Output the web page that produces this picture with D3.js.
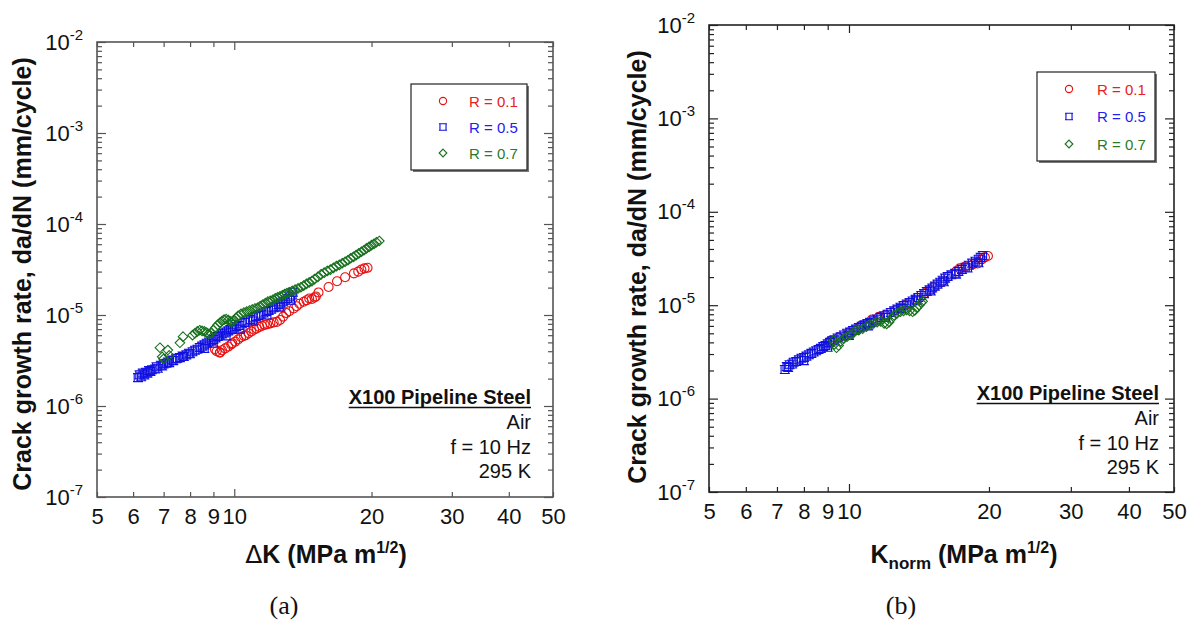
<!DOCTYPE html>
<html><head><meta charset="utf-8">
<script src="https://cdn.jsdelivr.net/npm/d3@7"></script>
<style>
body{margin:0;background:#fff}
svg{display:block;font-family:"Liberation Sans",Arial,sans-serif}
</style>
</head><body>
<svg id="c" width="1187" height="621"></svg>
<script>
// ---------- data ----------
const xTickValues = [5,6,7,8,9,10,20,30,40,50];
const yDecades = [-7,-6,-5,-4,-3,-2];
const seriesNames = ["R = 0.1","R = 0.5","R = 0.7"];
const noteTitle = "X100 Pipeline Steel";
const noteLines = ["Air","f = 10 Hz","295 K"];
const panelLetters = ["(a)","(b)"];

// panel (a): ΔK vs da/dN
const aR01 = [[9.07,4.2e-6],[9.15,4.0e-6],[9.3,3.9e-6],[9.3,3.85e-6],[9.4,4.1e-6],[9.55,4.3e-6],[9.7,4.5e-6],[9.85,4.75e-6],[9.9,4.9e-6],[10.05,5.1e-6],[10.2,5.4e-6],[10.35,5.7e-6],[10.5,5.9e-6],[10.6,6.0e-6],[10.75,6.3e-6],[10.9,6.6e-6],[11.05,6.9e-6],[11.2,7.1e-6],[11.35,7.4e-6],[11.5,7.6e-6],[11.65,7.8e-6],[11.8,7.9e-6],[12.0,8.1e-6],[12.2,8.3e-6],[12.4,8.4e-6],[12.6,8.8e-6],[12.8,9.6e-6],[13.0,1.05e-5],[13.2,1.1e-5],[13.5,1.18e-5],[13.7,1.25e-5],[13.9,1.33e-5],[14.2,1.4e-5],[14.4,1.45e-5],[14.6,1.52e-5],[14.8,1.5e-5],[15.0,1.56e-5],[15.1,1.6e-5],[15.3,1.77e-5],[16.1,2.03e-5],[16.8,2.35e-5],[17.5,2.6e-5],[18.3,2.87e-5],[18.7,3.0e-5],[19.0,3.16e-5],[19.3,3.25e-5],[19.6,3.3e-5]];
const aR05 = [[6.15,2.05e-6],[6.2,2.2e-6],[6.25,2.1e-6],[6.3,2.3e-6],[6.35,2.2e-6],[6.4,2.35e-6],[6.45,2.3e-6],[6.5,2.45e-6],[6.55,2.4e-6],[6.6,2.5e-6],[6.7,2.55e-6],[6.75,2.7e-6],[6.8,2.6e-6],[6.9,2.8e-6],[6.95,2.75e-6],[7.0,2.9e-6],[7.1,2.95e-6],[7.15,3.05e-6],[7.2,3.0e-6],[7.3,3.2e-6],[7.35,3.15e-6],[7.45,3.3e-6],[7.5,3.35e-6],[7.6,3.4e-6],[7.7,3.55e-6],[7.75,3.5e-6],[7.85,3.65e-6],[7.95,3.8e-6],[8.0,3.75e-6],[8.1,3.95e-6],[8.2,4.1e-6],[8.3,4.2e-6],[8.4,4.4e-6],[8.5,4.55e-6],[8.6,4.7e-6],[8.6,4.3e-6],[8.7,4.9e-6],[8.8,5.05e-6],[8.9,5.2e-6],[9.0,5.4e-6],[9.0,4.9e-6],[9.1,5.6e-6],[9.2,5.8e-6],[9.3,6.0e-6],[9.4,6.2e-6],[9.5,6.35e-6],[9.6,6.5e-6],[9.6,5.9e-6],[9.7,6.7e-6],[9.8,6.9e-6],[9.9,7.0e-6],[9.9,7.8e-6],[10.0,7.2e-6],[10.1,7.45e-6],[10.25,7.7e-6],[10.3,7.0e-6],[10.4,8.0e-6],[10.55,8.3e-6],[10.7,8.6e-6],[10.85,8.9e-6],[11.0,9.3e-6],[11.0,8.6e-6],[11.15,9.6e-6],[11.3,9.9e-6],[11.45,1.02e-5],[11.6,1.05e-5],[11.75,1.09e-5],[11.8,1.0e-5],[11.9,1.12e-5],[12.05,1.16e-5],[12.2,1.2e-5],[12.35,1.25e-5],[12.5,1.3e-5],[12.6,1.22e-5],[12.65,1.35e-5],[12.8,1.4e-5],[12.95,1.46e-5],[13.1,1.52e-5],[13.25,1.58e-5],[13.3,1.45e-5],[13.4,1.66e-5],[13.45,1.78e-5]];
const aR07 = [[6.87,4.37e-6],[6.95,3.47e-6],[7.0,3.3e-6],[7.15,4.12e-6],[7.2,3.6e-6],[7.6,4.95e-6],[7.72,5.78e-6],[8.1,6.0e-6],[8.2,6.3e-6],[8.3,6.6e-6],[8.4,6.8e-6],[8.5,6.7e-6],[8.6,6.6e-6],[8.7,6.4e-6],[8.8,6.2e-6],[8.9,6.3e-6],[9.0,6.8e-6],[9.1,7.3e-6],[9.2,7.8e-6],[9.3,8.2e-6],[9.4,8.6e-6],[9.5,8.9e-6],[9.6,9.0e-6],[9.7,8.8e-6],[9.8,8.5e-6],[9.9,8.5e-6],[10.0,8.8e-6],[10.1,9.3e-6],[10.2,9.8e-6],[10.35,1.03e-5],[10.5,1.06e-5],[10.65,1.09e-5],[10.8,1.12e-5],[10.95,1.15e-5],[11.1,1.18e-5],[11.25,1.2e-5],[11.4,1.25e-5],[11.55,1.3e-5],[11.7,1.35e-5],[11.85,1.4e-5],[12.0,1.43e-5],[12.15,1.47e-5],[12.3,1.52e-5],[12.45,1.56e-5],[12.6,1.6e-5],[12.75,1.65e-5],[12.9,1.7e-5],[13.05,1.74e-5],[13.2,1.78e-5],[13.4,1.84e-5],[13.6,1.9e-5],[13.8,1.96e-5],[14.0,2.02e-5],[14.2,2.1e-5],[14.4,2.2e-5],[14.6,2.28e-5],[14.8,2.36e-5],[15.0,2.48e-5],[15.25,2.62e-5],[15.5,2.8e-5],[15.75,2.92e-5],[16.0,3.05e-5],[16.25,3.15e-5],[16.5,3.3e-5],[16.75,3.45e-5],[17.0,3.55e-5],[17.25,3.7e-5],[17.5,3.85e-5],[17.75,4.0e-5],[18.0,4.2e-5],[18.25,4.35e-5],[18.5,4.55e-5],[18.75,4.75e-5],[19.0,4.95e-5],[19.25,5.15e-5],[19.5,5.4e-5],[19.75,5.6e-5],[20.0,5.85e-5],[20.25,6.05e-5],[20.5,6.3e-5],[20.8,6.5e-5]];

// panel (b): Knorm vs da/dN
const bR01 = [[9.1,4.1e-6],[9.5,4.5e-6],[10.0,5.1e-6],[10.6,6.0e-6],[11.2,7.0e-6],[11.6,7.5e-6],[12.0,7.9e-6],[12.6,8.9e-6],[13.3,1.02e-5],[14.0,1.2e-5],[14.6,1.35e-5],[15.2,1.55e-5],[15.8,1.75e-5],[16.4,2.05e-5],[17.0,2.3e-5],[17.3,2.48e-5],[17.8,2.6e-5],[18.5,2.75e-5],[18.9,2.8e-5],[19.3,3.1e-5],[19.6,3.25e-5],[19.9,3.36e-5]];
const bR05 = [[7.28,2.05e-6],[7.35,2.2e-6],[7.4,2.15e-6],[7.45,2.3e-6],[7.55,2.35e-6],[7.6,2.45e-6],[7.7,2.5e-6],[7.8,2.6e-6],[7.9,2.7e-6],[8.0,2.75e-6],[8.0,2.55e-6],[8.1,2.85e-6],[8.2,2.95e-6],[8.3,3.05e-6],[8.4,3.15e-6],[8.5,3.25e-6],[8.6,3.35e-6],[8.7,3.45e-6],[8.8,3.6e-6],[8.9,3.7e-6],[9.0,3.85e-6],[9.0,3.55e-6],[9.1,4.0e-6],[9.2,4.15e-6],[9.3,4.25e-6],[9.45,4.45e-6],[9.6,4.6e-6],[9.75,4.8e-6],[9.9,5.0e-6],[10.0,4.75e-6],[10.05,5.15e-6],[10.2,5.35e-6],[10.35,5.55e-6],[10.5,5.75e-6],[10.65,5.95e-6],[10.8,6.15e-6],[10.95,6.35e-6],[11.0,6.0e-6],[11.1,6.55e-6],[11.3,6.8e-6],[11.5,7.1e-6],[11.7,7.4e-6],[11.9,7.7e-6],[12.0,7.4e-6],[12.1,8.0e-6],[12.3,8.35e-6],[12.5,8.7e-6],[12.7,9.1e-6],[12.9,9.5e-6],[13.0,9.2e-6],[13.1,9.9e-6],[13.3,1.03e-5],[13.5,1.07e-5],[13.7,1.11e-5],[13.9,1.16e-5],[14.0,1.13e-5],[14.1,1.21e-5],[14.3,1.27e-5],[14.5,1.33e-5],[14.7,1.4e-5],[14.9,1.46e-5],[15.0,1.42e-5],[15.1,1.53e-5],[15.3,1.6e-5],[15.5,1.68e-5],[15.7,1.76e-5],[15.9,1.85e-5],[16.0,1.78e-5],[16.1,1.95e-5],[16.3,2.03e-5],[16.6,2.12e-5],[16.9,2.2e-5],[17.0,2.15e-5],[17.2,2.3e-5],[17.5,2.42e-5],[17.8,2.55e-5],[18.0,2.5e-5],[18.1,2.68e-5],[18.4,2.82e-5],[18.7,2.95e-5],[19.0,3.1e-5],[19.0,2.85e-5],[19.2,3.25e-5],[19.4,3.4e-5]];
const bR07 = [[9.26,4.2e-6],[9.3,3.8e-6],[9.4,3.5e-6],[9.5,3.7e-6],[9.6,4.1e-6],[9.75,4.4e-6],[9.9,4.6e-6],[10.05,4.8e-6],[10.2,5.0e-6],[10.35,5.4e-6],[10.5,5.4e-6],[10.7,5.6e-6],[10.9,5.9e-6],[11.1,6.2e-6],[11.3,6.4e-6],[11.5,6.6e-6],[11.7,6.7e-6],[11.9,6.4e-6],[12.05,6.3e-6],[12.2,6.6e-6],[12.35,7.2e-6],[12.5,7.8e-6],[12.7,8.2e-6],[12.9,8.5e-6],[13.1,8.7e-6],[13.3,8.9e-6],[13.5,8.7e-6],[13.7,8.5e-6],[13.85,8.8e-6],[14.0,9.4e-6],[14.15,1.0e-5],[14.3,1.06e-5],[14.4,1.1e-5]];

// ---------- drawing ----------
const svg = d3.select("#c");
const colors = ["#e81010","#1010e0","#16701c"];
const textColors = ["#e82020","#2020f0","#2a7a2a"];
const SANS = '"Liberation Sans",Arial,sans-serif';
const SERIF = '"Liberation Serif","Times New Roman",serif';

function markerPath(type){
  if(type===0){ const p=d3.path(); p.arc(0,0,4.5,0,2*Math.PI); return p.toString(); }
  if(type===1){ return "M-5,-4H5M-5,4H5M-3.8,-4V4M3.8,-4V4"; }
  return "M0,-4.8L4.8,0L0,4.8L-4.8,0Z";
}

function panel(cfg){
  const x = d3.scaleLog().domain([5,50]).range([cfg.x0,cfg.x1]);
  const y = d3.scaleLog().domain([1e-7,1e-2]).range([cfg.y1,cfg.y0]);
  const g = svg.append("g");
  const majors = yDecades.map(d=>Math.pow(10,d));
  const minors = [];
  yDecades.slice(0,-1).forEach(d=>{ for(let m=2;m<=9;m++) minors.push(m*Math.pow(10,d)); });

  const xb = g.append("g").attr("transform",`translate(0,${cfg.y1})`)
    .call(d3.axisBottom(x).tickValues(xTickValues).tickSize(-5).tickPadding(11).tickFormat(d3.format("d")));
  xb.selectAll(".tick line").attr("y2",d=>d===10?-8:-5);
  const xt = g.append("g").attr("transform",`translate(0,${cfg.y0})`)
    .call(d3.axisTop(x).tickValues(xTickValues).tickSize(-5).tickFormat(""));
  xt.selectAll(".tick line").attr("y2",d=>d===10?8:5);
  const yl = g.append("g").attr("transform",`translate(${cfg.x0},0)`)
    .call(d3.axisLeft(y).tickValues(majors).tickSize(-9).tickPadding(cfg.ypad));
  g.append("g").attr("transform",`translate(${cfg.x0},0)`)
    .call(d3.axisLeft(y).tickValues(minors).tickSize(-5).tickFormat(""));
  g.append("g").attr("transform",`translate(${cfg.x1},0)`)
    .call(d3.axisRight(y).tickValues(majors).tickSize(-9).tickFormat(""));
  g.append("g").attr("transform",`translate(${cfg.x1},0)`)
    .call(d3.axisRight(y).tickValues(minors).tickSize(-5).tickFormat(""));
  g.selectAll(".domain").remove();
  g.selectAll(".tick line").attr("stroke",cfg.frame).attr("stroke-width",1.2);
  g.selectAll("g").attr("font-family",null).attr("font-size",null);
  xb.selectAll(".tick text").style("font-size","22px").style("font-family",SANS).attr("fill","#111");
  yl.selectAll(".tick text").each(function(d){
    const t = d3.select(this).text(null).style("font-family",SANS).attr("fill","#111").attr("dy",null).attr("y",7);
    t.append("tspan").style("font-size","22px").text("10");
    t.append("tspan").style("font-size","15px").attr("dy",-10).text(String(Math.round(Math.log10(d))));
  });

  g.append("rect").attr("x",cfg.x0).attr("y",cfg.y0).attr("width",cfg.x1-cfg.x0).attr("height",cfg.y1-cfg.y0)
    .attr("fill","none").attr("stroke",cfg.frame).attr("stroke-width",1.6);

  cfg.order.forEach(i=>{
    g.append("g").selectAll("path").data(cfg.series[i]).join("path")
      .attr("d",markerPath(i))
      .attr("transform",d=>`translate(${x(d[0])},${y(d[1])})`)
      .attr("fill","none").attr("stroke",colors[i]).attr("stroke-width",1.1);
  });

  const L = cfg.legend;
  g.append("rect").attr("x",L.x+2).attr("y",L.y+2).attr("width",L.w).attr("height",L.h).attr("fill","#777");
  g.append("rect").attr("x",L.x).attr("y",L.y).attr("width",L.w).attr("height",L.h)
    .attr("fill","#fff").attr("stroke","#222").attr("stroke-width",1.2);
  seriesNames.forEach((name,i)=>{
    const yy = L.y + 17 + i*L.dy;
    g.append("path").attr("d",markerPath(i)).attr("transform",`translate(${L.x+L.mx},${yy}) scale(0.8)`)
      .attr("fill","none").attr("stroke",colors[i]).attr("stroke-width",1.4);
    g.append("text").attr("x",L.x+L.tx).attr("y",yy+5.5).style("font-size","15px")
      .attr("fill",textColors[i]).text(name);
  });

  const N = cfg.note;
  const tt = g.append("text").attr("x",N.x).attr("y",N.y).attr("text-anchor","end")
    .style("font-size","20px").attr("font-weight","bold").attr("fill","#111").text(noteTitle);
  const w = tt.node().getComputedTextLength();
  g.append("line").attr("x1",N.x-w).attr("x2",N.x).attr("y1",N.y+3.5).attr("y2",N.y+3.5)
    .attr("stroke","#111").attr("stroke-width",1.6);
  noteLines.forEach((s,i)=>{
    g.append("text").attr("x",N.x).attr("y",N.y+25+i*24.5).attr("text-anchor","end")
      .style("font-size","20px").attr("fill","#111").text(s);
  });

  g.append("text").attr("transform",`translate(${cfg.ytx},${cfg.yty}) rotate(-90)`)
    .attr("text-anchor","middle").attr("dy","0.36em").style("font-size","25px").attr("font-weight","bold")
    .attr("fill","#111").text("Crack growth rate, da/dN (mm/cycle)");

  const xtT = g.append("text").attr("x",cfg.xtx).attr("y",563).attr("text-anchor","middle")
    .style("font-size","25px").attr("font-weight","bold").attr("fill","#111");
  cfg.xtitle(xtT);

  g.append("text").attr("x",cfg.letterX).attr("y",614).attr("text-anchor","middle")
    .style("font-family",SERIF).style("font-size","26px")
    .attr("fill","#111").text(cfg.letter);
}

panel({
  x0:97,x1:553,y0:42,y1:497,frame:"#555",ypad:14,
  series:[aR01,aR05,aR07],order:[0,1,2],
  legend:{x:411,y:84,w:116,h:86,mx:32,tx:58,dy:26},
  note:{x:531,y:404},
  ytx:22,yty:274,xtx:326,letterX:284,letter:panelLetters[0],
  xtitle:t=>{
    t.append("tspan").style("font-family",'"DejaVu Sans",sans-serif').attr("font-weight","normal").text("\u0394");
    t.append("tspan").text("K (MPa m");
    t.append("tspan").style("font-size","16px").attr("dy",-10).text("1/2");
    t.append("tspan").attr("dy",10).text(")");
  }
});
panel({
  x0:709,x1:1174,y0:25,y1:492,frame:"#222",ypad:14,
  series:[bR01,bR05,bR07],order:[0,1,2],
  legend:{x:1037,y:72,w:118,h:89,mx:32,tx:60,dy:27.5},
  note:{x:1159,y:400},
  ytx:637,yty:267,xtx:964,letterX:901,letter:panelLetters[1],
  xtitle:t=>{
    t.append("tspan").text("K");
    t.append("tspan").style("font-size","17px").attr("dy",6).text("norm");
    t.append("tspan").attr("dy",-6).text(" (MPa m");
    t.append("tspan").style("font-size","16px").attr("dy",-10).text("1/2");
    t.append("tspan").attr("dy",10).text(")");
  }
});
</script>
</body></html>
